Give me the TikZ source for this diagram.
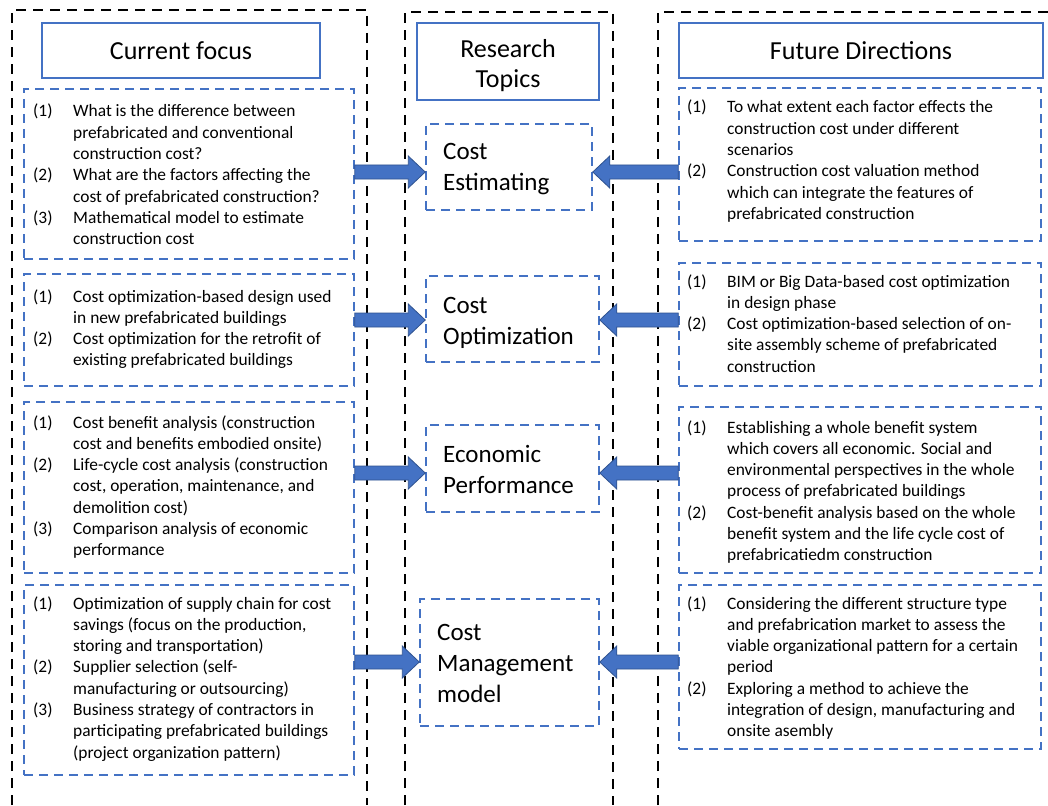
\documentclass[tikz,border=0pt]{standalone}
\usepackage{fontspec}
\setmainfont{Carlito}
\usetikzlibrary{calc}
\definecolor{officeblue}{HTML}{4472C4}
\definecolor{edgeblue}{HTML}{2F528F}

% numbered list: label column + text column, first baseline on top
\newcommand\itemtab[1]{\begin{tabular}[t]{@{}p{40pt}@{}l@{}}#1\end{tabular}}
\newcommand\stacktab[1]{\begin{tabular}[t]{@{}l@{}}#1\end{tabular}}

% horizontal block arrow from #1 to #2 (tip at #2)
\newcommand\blockarrow[2]{%
  \path[barrow] let \p1=(#1), \p2=(#2), \n1={ifthenelse(\x2>\x1,1,-1)} in
    (\x1,\y1+7pt) -- ({\x2-\n1*17pt},\y1+7pt) -- ({\x2-\n1*17pt},\y1+16pt)
    -- (\x2,\y1) -- ({\x2-\n1*17pt},\y1-16pt) -- ({\x2-\n1*17pt},\y1-7pt)
    -- (\x1,\y1-7pt) -- cycle;}

\tikzset{
  lane/.style={draw=black, line width=1.8pt, dash pattern=on 10pt off 7pt},
  headbox/.style={draw=officeblue, line width=1.5pt, rectangle, inner sep=0pt},
  groupbox/.style={draw=officeblue, line width=1.5pt, dash pattern=on 9pt off 6pt, rectangle, inner sep=0pt},
  headtext/.style={font=\fontsize{26}{30}\selectfont, inner sep=0pt, anchor=base},
  topictext/.style={font=\fontsize{25}{31}\selectfont, inner sep=0pt, anchor=base west},
  itemtext/.style={font=\fontsize{17.4}{21.3}\selectfont, inner sep=0pt, anchor=base west},
  barrow/.style={fill=officeblue, draw=edgeblue, line width=0.8pt, line join=miter},
}

\begin{document}
\begin{tikzpicture}[x=1pt, y=-1pt]
  \clip (0,0) rectangle (1048,805);
  \fill[white] (0,0) rectangle (1048,805);

  % the three lanes
  \draw[lane] (12,805) -- (12,10) -- (367,10) -- (367,805);
  \draw[lane] (405,805) -- (405,12) -- (613,12) -- (613,805);
  \draw[lane] (658,805) -- (658,12) -- (1070,12);

  % lane headings
  \node[headbox, minimum width=278pt, minimum height=55pt] (h1) at (181,50.5) {};
  \node[headbox, minimum width=182pt, minimum height=77pt] (h2) at (508,61.5) {};
  \node[headbox, minimum width=364pt, minimum height=55pt] (h3) at (861,50.5) {};
  \node[headtext] (h1t) at (181,60) {Current focus};
  \node[headtext] (h2t) at (508,58) {\begin{tabular}[t]{@{}c@{}}Research\\Topics\end{tabular}};
  \node[headtext] (h3t) at (861,60) {Future Directions};

  % current focus groups
  \node[groupbox, minimum width=330pt, minimum height=170pt] (l1) at (189,174) {};
  \node[groupbox, minimum width=330pt, minimum height=112pt] (l2) at (189,330) {};
  \node[groupbox, minimum width=330pt, minimum height=171pt] (l3) at (189,487.5) {};
  \node[groupbox, minimum width=330pt, minimum height=190pt] (l4) at (189,680) {};

  % research topics
  \node[groupbox, minimum width=166pt, minimum height=86pt] (m1) at (509,167) {};
  \node[groupbox, minimum width=173pt, minimum height=86pt] (m2) at (512.5,319) {};
  \node[groupbox, minimum width=173pt, minimum height=87pt] (m3) at (512.5,468.5) {};
  \node[groupbox, minimum width=179pt, minimum height=127pt] (m4) at (509.5,662.5) {};

  % future direction groups
  \node[groupbox, minimum width=362pt, minimum height=153pt] (r1) at (860,164.5) {};
  \node[groupbox, minimum width=362pt, minimum height=123pt] (r2) at (860,324.5) {};
  \node[groupbox, minimum width=362pt, minimum height=166pt] (r3) at (860,490) {};
  \node[groupbox, minimum width=362pt, minimum height=164pt] (r4) at (860,667) {};

  % topic labels
  \node[topictext] (m1t) at (443,160) {\stacktab{Cost\\Estimating}};
  \node[topictext] (m2t) at (443,313) {\stacktab{Cost\\Optimization}};
  \node[topictext] (m3t) at (443,462) {\stacktab{Economic\\Performance}};
  \node[topictext] (m4t) at (437,640) {\stacktab{Cost\\Management\\model}};

  % current focus items
  \node[itemtext] (l1t) at (33,117) {\itemtab{
    (1) & What is the difference between\\
        & prefabricated and conventional\\
        & construction cost?\\
    (2) & What are the factors affecting the\\
        & cost of prefabricated construction?\\
    (3) & Mathematical model to estimate\\
        & construction cost}};
  \node[itemtext] (l2t) at (33,302) {\itemtab{
    (1) & Cost optimization-based design used\\
        & in new prefabricated buildings\\
    (2) & Cost optimization for the retrofit of\\
        & existing prefabricated buildings}};
  \node[itemtext] (l3t) at (33,428) {\itemtab{
    (1) & Cost benefit analysis (construction\\
        & cost and benefits embodied onsite)\\
    (2) & Life-cycle cost analysis (construction\\
        & cost, operation, maintenance, and\\
        & demolition cost)\\
    (3) & Comparison analysis of economic\\
        & performance}};
  \node[itemtext] (l4t) at (33,609) {\itemtab{
    (1) & Optimization of supply chain for cost\\
        & savings (focus on the production,\\
        & storing and transportation)\\
    (2) & Supplier selection (self-\\
        & manufacturing or outsourcing)\\
    (3) & Business strategy of contractors in\\
        & participating prefabricated buildings\\
        & (project organization pattern)}};

  % future direction items
  \node[itemtext] (r1t) at (687,113) {\itemtab{
    (1) & To what extent each factor effects the\\
        & construction cost under different\\
        & scenarios\\
    (2) & Construction cost valuation method\\
        & which can integrate the features of\\
        & prefabricated construction}};
  \node[itemtext] (r2t) at (687,287) {\itemtab{
    (1) & BIM or Big Data-based cost optimization\\
        & in design phase\\
    (2) & Cost optimization-based selection of on-\\
        & site assembly scheme of prefabricated\\
        & construction}};
  \node[itemtext] (r3t) at (687,433) {\itemtab{
    (1) & Establishing a whole benefit system\\
        & which covers all economic. Social and\\
        & environmental perspectives in the whole\\
        & process of prefabricated buildings\\
    (2) & Cost-benefit analysis based on the whole\\
        & benefit system and the life cycle cost of\\
        & prefabricatiedm construction}};
  \node[itemtext] (r4t) at (687,609) {\itemtab{
    (1) & Considering the different structure type\\
        & and prefabrication market to assess the\\
        & viable organizational pattern for a certain\\
        & period\\
    (2) & Exploring a method to achieve the\\
        & integration of design, manufacturing and\\
        & onsite asembly}};

  % arrow rows
  \coordinate (row1) at (0,172);
  \coordinate (row2) at (0,320);
  \coordinate (row3) at (0,473);
  \coordinate (row4) at (0,662);

  \blockarrow{l1.east |- row1}{m1.west |- row1}
  \blockarrow{l2.east |- row2}{m2.west |- row2}
  \blockarrow{l3.east |- row3}{m3.west |- row3}
  \blockarrow{l4.east |- row4}{m4.west |- row4}
  \blockarrow{r1.west |- row1}{m1.east |- row1}
  \blockarrow{r2.west |- row2}{m2.east |- row2}
  \blockarrow{r3.west |- row3}{m3.east |- row3}
  \blockarrow{r4.west |- row4}{m4.east |- row4}
\end{tikzpicture}
\end{document}
